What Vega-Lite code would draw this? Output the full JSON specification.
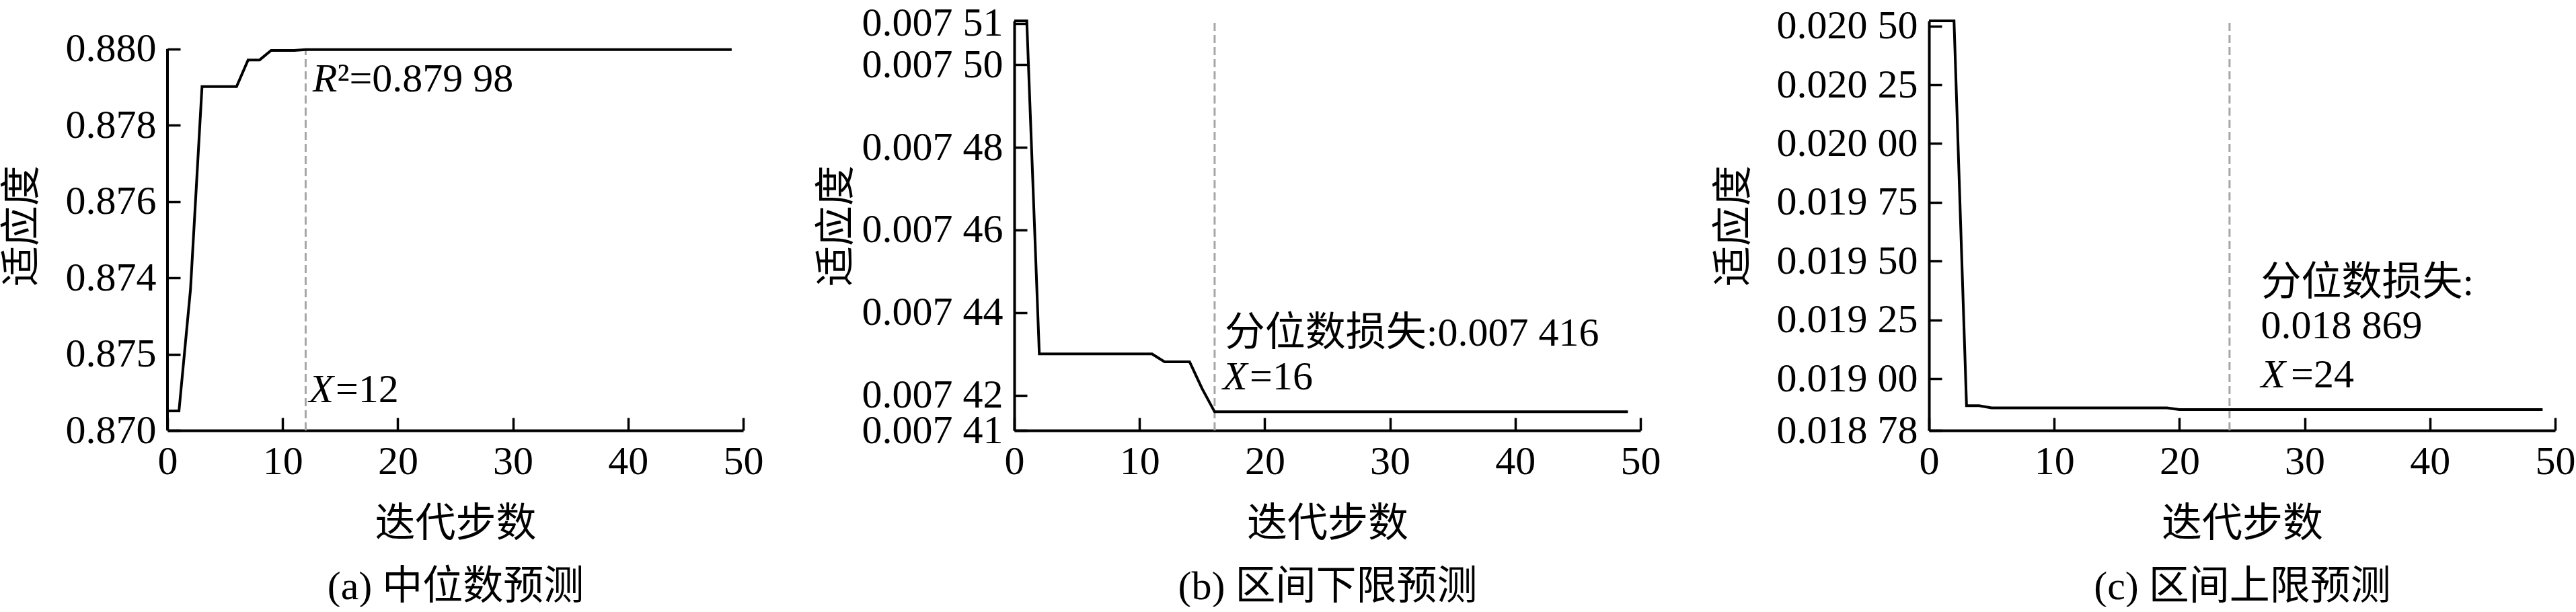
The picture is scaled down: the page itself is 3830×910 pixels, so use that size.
{
  "$schema": "https://vega.github.io/schema/vega-lite/v6.json",
  "padding": {"left": 3, "top": 4, "right": 0, "bottom": 0},
  "background": "white",
  "config": {
    "font": "Liberation Serif, Noto Sans CJK SC",
    "view": {"stroke": null},
    "concat": {"spacing": 79},
    "axis": {
      "grid": false,
      "domainColor": "black",
      "domainWidth": 4,
      "tickColor": "black",
      "tickWidth": 3.5,
      "tickSize": -19,
      "labelFontSize": 60,
      "labelColor": "black",
      "labelOverlap": false,
      "labelFlush": false,
      "labelLimit": 0,
      "titleFontSize": 60,
      "titleFontWeight": "normal",
      "titleColor": "black",
      "labelFont": "Liberation Serif, Noto Sans CJK SC",
      "titleFont": "Liberation Serif, Noto Sans CJK SC"
    },
    "axisX": {"labelPadding": 36, "titlePadding": 34, "titleLineHeight": 93},
    "axisY": {"labelPadding": 36, "titlePadding": 33},
    "line": {"color": "black", "strokeWidth": 4},
    "rule": {"color": "#a6a6a6", "strokeWidth": 3, "strokeDash": [12, 6]},
    "text": {"fontSize": 60, "color": "black", "align": "left", "baseline": "alphabetic"}
  },
  "hconcat": [
    {
      "width": 856,
      "height": 609,
      "encoding": {
        "x": {"field": "step", "type": "quantitative", "scale": {"domain": [0, 50], "nice": false, "zero": false},
              "axis": {"values": [0, 10, 20, 30, 40, 50], "format": "d", "title": ["迭代步数", "(a) 中位数预测"]}},
        "y": {"field": "fitness", "type": "quantitative", "scale": {"domain": [0.870, 0.880735], "nice": false, "zero": false},
              "axis": {"values": [0.870, 0.872, 0.874, 0.876, 0.878, 0.880], "title": "适应度", "domain": false,
                       "labelExpr": "abs(datum.value - 0.872) < 0.0000001 ? '0.875' : format(datum.value, '.3f')"}}
      },
      "layer": [
        {"data": {"values": [{"step": 0, "fitness": 0.870, "top": 0.880}]},
         "mark": {"type": "rule", "color": "black", "strokeWidth": 4, "strokeDash": [1, 0]}, "encoding": {"y2": {"field": "top"}}},
        {"data": {"values": [{"step": 12, "fitness": 0.870, "top": 0.880}]},
         "mark": {"type": "rule"}, "encoding": {"y2": {"field": "top"}}},
        {"data": {"values": [
          {"step": 0, "fitness": 0.87051}, {"step": 1, "fitness": 0.87051}, {"step": 2, "fitness": 0.8737},
          {"step": 3, "fitness": 0.87901}, {"step": 4, "fitness": 0.87901}, {"step": 5, "fitness": 0.87901},
          {"step": 6, "fitness": 0.87901}, {"step": 7, "fitness": 0.87971}, {"step": 8, "fitness": 0.87971},
          {"step": 9, "fitness": 0.87996}, {"step": 10, "fitness": 0.87996}, {"step": 11, "fitness": 0.87996},
          {"step": 12, "fitness": 0.87998}, {"step": 13, "fitness": 0.87998}, {"step": 14, "fitness": 0.87998},
          {"step": 15, "fitness": 0.87998}, {"step": 16, "fitness": 0.87998}, {"step": 17, "fitness": 0.87998},
          {"step": 18, "fitness": 0.87998}, {"step": 19, "fitness": 0.87998}, {"step": 20, "fitness": 0.87998},
          {"step": 21, "fitness": 0.87998}, {"step": 22, "fitness": 0.87998}, {"step": 23, "fitness": 0.87998},
          {"step": 24, "fitness": 0.87998}, {"step": 25, "fitness": 0.87998}, {"step": 26, "fitness": 0.87998},
          {"step": 27, "fitness": 0.87998}, {"step": 28, "fitness": 0.87998}, {"step": 29, "fitness": 0.87998},
          {"step": 30, "fitness": 0.87998}, {"step": 31, "fitness": 0.87998}, {"step": 32, "fitness": 0.87998},
          {"step": 33, "fitness": 0.87998}, {"step": 34, "fitness": 0.87998}, {"step": 35, "fitness": 0.87998},
          {"step": 36, "fitness": 0.87998}, {"step": 37, "fitness": 0.87998}, {"step": 38, "fitness": 0.87998},
          {"step": 39, "fitness": 0.87998}, {"step": 40, "fitness": 0.87998}, {"step": 41, "fitness": 0.87998},
          {"step": 42, "fitness": 0.87998}, {"step": 43, "fitness": 0.87998}, {"step": 44, "fitness": 0.87998},
          {"step": 45, "fitness": 0.87998}, {"step": 46, "fitness": 0.87998}, {"step": 47, "fitness": 0.87998},
          {"step": 48, "fitness": 0.87998}, {"step": 49, "fitness": 0.87998}]},
         "mark": {"type": "line"}},
        {"data": {"values": [{"step": 12.6, "fitness": 0.87888, "t": "R"}, {"step": 12.3, "fitness": 0.87074, "t": "X"}]},
         "mark": {"type": "text", "fontStyle": "italic"}, "encoding": {"text": {"field": "t"}}},
        {"data": {"values": [{"step": 14.75, "fitness": 0.87888, "t": "²=0.879 98"}, {"step": 14.6, "fitness": 0.87074, "t": "=12"}]},
         "mark": {"type": "text"}, "encoding": {"text": {"field": "t"}}}
      ]
    },
    {
      "width": 931,
      "height": 609,
      "encoding": {
        "x": {"field": "step", "type": "quantitative", "scale": {"domain": [0, 50], "nice": false, "zero": false},
              "axis": {"values": [0, 10, 20, 30, 40, 50], "format": "d", "title": ["迭代步数", "(b) 区间下限预测"]}},
        "y": {"field": "fitness", "type": "quantitative", "scale": {"domain": [0.0074115, 0.0075106], "nice": false, "zero": false},
              "axis": {"values": [0.0074115, 0.00742, 0.00744, 0.00746, 0.00748, 0.0075, 0.00751], "title": "适应度",
                       "labelExpr": "'0.007 ' + format(round(datum.value * 100000) - 700, '02d')"}}
      },
      "layer": [
        {"data": {"values": [{"step": 16, "fitness": 0.0074115, "top": 0.0075106}]},
         "mark": {"type": "rule"}, "encoding": {"y2": {"field": "top"}}},
        {"data": {"values": [
          {"step": 0, "fitness": 0.0075106}, {"step": 1, "fitness": 0.0075106}, {"step": 2, "fitness": 0.00743},
          {"step": 3, "fitness": 0.00743}, {"step": 4, "fitness": 0.00743}, {"step": 5, "fitness": 0.00743},
          {"step": 6, "fitness": 0.00743}, {"step": 7, "fitness": 0.00743}, {"step": 8, "fitness": 0.00743},
          {"step": 9, "fitness": 0.00743}, {"step": 10, "fitness": 0.00743}, {"step": 11, "fitness": 0.00743},
          {"step": 12, "fitness": 0.0074281}, {"step": 13, "fitness": 0.0074281}, {"step": 14, "fitness": 0.0074281},
          {"step": 15, "fitness": 0.0074216}, {"step": 16, "fitness": 0.007416}, {"step": 17, "fitness": 0.007416},
          {"step": 18, "fitness": 0.007416}, {"step": 19, "fitness": 0.007416}, {"step": 20, "fitness": 0.007416},
          {"step": 21, "fitness": 0.007416}, {"step": 22, "fitness": 0.007416}, {"step": 23, "fitness": 0.007416},
          {"step": 24, "fitness": 0.007416}, {"step": 25, "fitness": 0.007416}, {"step": 26, "fitness": 0.007416},
          {"step": 27, "fitness": 0.007416}, {"step": 28, "fitness": 0.007416}, {"step": 29, "fitness": 0.007416},
          {"step": 30, "fitness": 0.007416}, {"step": 31, "fitness": 0.007416}, {"step": 32, "fitness": 0.007416},
          {"step": 33, "fitness": 0.007416}, {"step": 34, "fitness": 0.007416}, {"step": 35, "fitness": 0.007416},
          {"step": 36, "fitness": 0.007416}, {"step": 37, "fitness": 0.007416}, {"step": 38, "fitness": 0.007416},
          {"step": 39, "fitness": 0.007416}, {"step": 40, "fitness": 0.007416}, {"step": 41, "fitness": 0.007416},
          {"step": 42, "fitness": 0.007416}, {"step": 43, "fitness": 0.007416}, {"step": 44, "fitness": 0.007416},
          {"step": 45, "fitness": 0.007416}, {"step": 46, "fitness": 0.007416}, {"step": 47, "fitness": 0.007416},
          {"step": 48, "fitness": 0.007416}, {"step": 49, "fitness": 0.007416}]},
         "mark": {"type": "line"}},
        {"data": {"values": [{"step": 16.65, "fitness": 0.0074214, "t": "X"}]},
         "mark": {"type": "text", "fontStyle": "italic"}, "encoding": {"text": {"field": "t"}}},
        {"data": {"values": [{"step": 16.8, "fitness": 0.007432, "t": "分位数损失:0.007 416"}, {"step": 18.8, "fitness": 0.0074214, "t": "=16"}]},
         "mark": {"type": "text"}, "encoding": {"text": {"field": "t"}}}
      ]
    },
    {
      "width": 931,
      "height": 609,
      "encoding": {
        "x": {"field": "step", "type": "quantitative", "scale": {"domain": [0, 50], "nice": false, "zero": false},
              "axis": {"values": [0, 10, 20, 30, 40, 50], "format": "d", "title": ["迭代步数", "(c) 区间上限预测"]}},
        "y": {"field": "fitness", "type": "quantitative", "scale": {"domain": [0.01878, 0.020522], "nice": false, "zero": false},
              "axis": {"values": [0.01878, 0.019, 0.01925, 0.0195, 0.01975, 0.02, 0.02025, 0.0205], "title": "适应度", "titlePadding": 59,
                       "labelExpr": "'0.0' + floor(round(datum.value * 100000) / 100) + ' ' + format(round(datum.value * 100000) % 100, '02d')"}}
      },
      "layer": [
        {"data": {"values": [{"step": 24, "fitness": 0.01878, "top": 0.020522}]},
         "mark": {"type": "rule"}, "encoding": {"y2": {"field": "top"}}},
        {"data": {"values": [
          {"step": 0, "fitness": 0.020522}, {"step": 1, "fitness": 0.020522}, {"step": 2, "fitness": 0.020522},
          {"step": 3, "fitness": 0.018885}, {"step": 4, "fitness": 0.018885}, {"step": 5, "fitness": 0.018876},
          {"step": 6, "fitness": 0.018876}, {"step": 7, "fitness": 0.018876}, {"step": 8, "fitness": 0.018876},
          {"step": 9, "fitness": 0.018876}, {"step": 10, "fitness": 0.018876}, {"step": 11, "fitness": 0.018876},
          {"step": 12, "fitness": 0.018876}, {"step": 13, "fitness": 0.018876}, {"step": 14, "fitness": 0.018876},
          {"step": 15, "fitness": 0.018876}, {"step": 16, "fitness": 0.018876}, {"step": 17, "fitness": 0.018876},
          {"step": 18, "fitness": 0.018876}, {"step": 19, "fitness": 0.018876}, {"step": 20, "fitness": 0.018869},
          {"step": 21, "fitness": 0.018869}, {"step": 22, "fitness": 0.018869}, {"step": 23, "fitness": 0.018869},
          {"step": 24, "fitness": 0.018869}, {"step": 25, "fitness": 0.018869}, {"step": 26, "fitness": 0.018869},
          {"step": 27, "fitness": 0.018869}, {"step": 28, "fitness": 0.018869}, {"step": 29, "fitness": 0.018869},
          {"step": 30, "fitness": 0.018869}, {"step": 31, "fitness": 0.018869}, {"step": 32, "fitness": 0.018869},
          {"step": 33, "fitness": 0.018869}, {"step": 34, "fitness": 0.018869}, {"step": 35, "fitness": 0.018869},
          {"step": 36, "fitness": 0.018869}, {"step": 37, "fitness": 0.018869}, {"step": 38, "fitness": 0.018869},
          {"step": 39, "fitness": 0.018869}, {"step": 40, "fitness": 0.018869}, {"step": 41, "fitness": 0.018869},
          {"step": 42, "fitness": 0.018869}, {"step": 43, "fitness": 0.018869}, {"step": 44, "fitness": 0.018869},
          {"step": 45, "fitness": 0.018869}, {"step": 46, "fitness": 0.018869}, {"step": 47, "fitness": 0.018869},
          {"step": 48, "fitness": 0.018869}, {"step": 49, "fitness": 0.018869}]},
         "mark": {"type": "line"}},
        {"data": {"values": [{"step": 26.5, "fitness": 0.018964, "t": "X"}]},
         "mark": {"type": "text", "fontStyle": "italic"}, "encoding": {"text": {"field": "t"}}},
        {"data": {"values": [{"step": 26.5, "fitness": 0.019355, "t": "分位数损失:"}, {"step": 26.5, "fitness": 0.019171, "t": "0.018 869"}, {"step": 28.9, "fitness": 0.018964, "t": "=24"}]},
         "mark": {"type": "text"}, "encoding": {"text": {"field": "t"}}}
      ]
    }
  ]
}
